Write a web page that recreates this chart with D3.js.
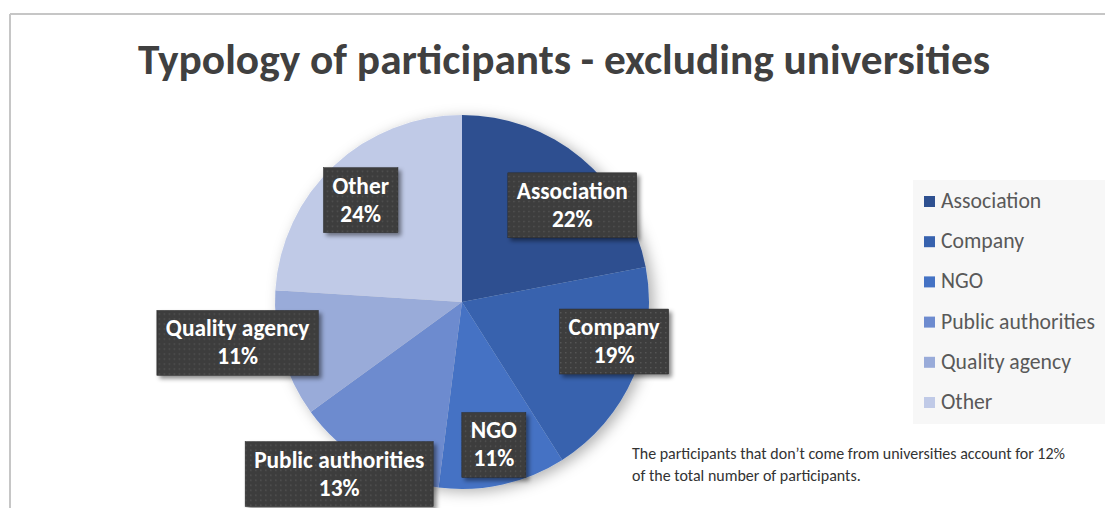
<!DOCTYPE html>
<html>
<head>
<meta charset="utf-8">
<script src="https://cdn.jsdelivr.net/npm/d3@7"></script>
<style>
  html, body { margin: 0; padding: 0; background: #fff; }
  svg { display: block; font-family: Calibri, Carlito, "Open Sans", sans-serif; }
</style>
</head>
<body>
<div id="chart"></div>
<script>
// Pie data (percent of non-university participants)
const categories = ["Association", "Company", "NGO", "Public authorities", "Quality agency", "Other"]
const values = [22, 19, 11, 13, 11, 24]
const colors = ["#2e5090", "#3762ae", "#4472c4", "#6d8bcf", "#99abd9", "#c0cae7"]

const title = "Typology of participants - excluding universities"
const noteLines = [
  "The participants that don\u2019t come from universities account for 12%",
  "of the total number of participants."
]

// Excel "best fit" label spots: radius from centre and angle nudge (degrees)
const labelPlacement = [
  { r: 147, nudge: 9 },
  { r: 157, nudge: -9 },
  { r: 146, nudge: 0 },
  { r: 211, nudge: 5 },
  { r: 228, nudge: 6 },
  { r: 144, nudge: -1.5 }
]

const width = 1105
const height = 508
const cx = 462
const cy = 302
const radius = 187

const svg = d3.select("#chart")
  .append("svg")
  .attr("width", width)
  .attr("height", height)

const defs = svg.append("defs")

// soft shadow around the pie
const pieShadow = defs.append("filter").attr("id", "pieShadow")
  .attr("x", "-20%").attr("y", "-20%").attr("width", "140%").attr("height", "140%")
pieShadow.append("feDropShadow")
  .attr("dx", 5).attr("dy", 3).attr("stdDeviation", 7)
  .attr("flood-color", "#000").attr("flood-opacity", 0.3)

const boxShadow = defs.append("filter").attr("id", "boxShadow")
  .attr("x", "-20%").attr("y", "-20%").attr("width", "150%").attr("height", "150%")
boxShadow.append("feDropShadow")
  .attr("dx", 3).attr("dy", 3).attr("stdDeviation", 2)
  .attr("flood-color", "#000").attr("flood-opacity", 0.45)

// dotted texture of the label boxes
const pat = defs.append("pattern").attr("id", "dots")
  .attr("width", 5).attr("height", 5).attr("patternUnits", "userSpaceOnUse")
pat.append("rect").attr("width", 5).attr("height", 5).attr("fill", "#3c3c3c")
pat.append("rect").attr("x", 1).attr("y", 1).attr("width", 1.4).attr("height", 1.4).attr("fill", "#585858")

// frame (only top and left edges are visible in the crop)
svg.append("line")
  .attr("x1", 10).attr("y1", 14).attr("x2", width).attr("y2", 14)
  .attr("stroke", "#c6c6c6").attr("stroke-width", 2)
svg.append("line")
  .attr("x1", 10).attr("y1", 14).attr("x2", 10).attr("y2", height)
  .attr("stroke", "#c6c6c6").attr("stroke-width", 2)

// helper: shrink/grow a text node's font so it spans a given width
function fitText(sel, targetWidth) {
  const node = sel.node()
  const fs = parseFloat(sel.attr("font-size"))
  const w = node.getComputedTextLength()
  if (w > 0) sel.attr("font-size", (fs * targetWidth / w).toFixed(2))
  return sel
}

// title
const titleText = svg.append("text")
  .attr("x", 564).attr("y", 74)
  .attr("text-anchor", "middle")
  .attr("font-size", 36)
  .attr("font-weight", "bold")
  .attr("fill", "#404040")
  .text(title)
fitText(titleText, 852)

// pie
const pie = d3.pie().sort(null).value(d => d)
const arcs = pie(values)
const arc = d3.arc().innerRadius(0).outerRadius(radius)

const pieG = svg.append("g")
  .attr("transform", `translate(${cx},${cy})`)
  .attr("filter", "url(#pieShadow)")

pieG.selectAll("path")
  .data(arcs)
  .enter()
  .append("path")
  .attr("d", arc)
  .attr("fill", (d, i) => colors[i])

// label font size: "Association" is about 111px wide in the original
const probe = svg.append("text")
  .attr("font-size", 20).attr("font-weight", "bold")
  .text(categories[0])
fitText(probe, 111)
const labelFont = parseFloat(probe.attr("font-size"))
probe.remove()

// data labels
const labelG = svg.append("g").attr("transform", `translate(${cx},${cy})`)
const lineH = 28
const total = d3.sum(values)

arcs.forEach((d, i) => {
  const mid = (d.startAngle + d.endAngle) / 2 + labelPlacement[i].nudge * Math.PI / 180
  const r = labelPlacement[i].r
  const x = r * Math.sin(mid)
  const y = -r * Math.cos(mid)
  const pct = Math.round(d.data / total * 100) + "%"

  const g = labelG.append("g").attr("transform", `translate(${x},${y})`)
  const rect = g.append("rect")
    .attr("fill", "url(#dots)")
    .attr("stroke", "#2a2a2a")
    .attr("stroke-width", 0.5)
    .attr("filter", "url(#boxShadow)")

  const t1 = g.append("text")
    .attr("x", 0).attr("y", -6)
    .attr("text-anchor", "middle")
    .attr("font-size", labelFont)
    .attr("font-weight", "bold")
    .attr("fill", "#fff")
    .text(categories[i])
  const t2 = g.append("text")
    .attr("x", 0).attr("y", -6 + lineH)
    .attr("text-anchor", "middle")
    .attr("font-size", labelFont)
    .attr("font-weight", "bold")
    .attr("fill", "#fff")
    .text(pct)

  const w = Math.max(t1.node().getComputedTextLength(), t2.node().getComputedTextLength())
  rect.attr("x", -w / 2 - 9).attr("y", -32)
    .attr("width", w + 18).attr("height", 65)
})

// legend
const legendG = svg.append("g")
legendG.append("rect")
  .attr("x", 913).attr("y", 180)
  .attr("width", width - 913).attr("height", 244)
  .attr("fill", "#f7f7f7")

const legendY = d3.scalePoint()
  .domain(categories)
  .range([201, 402])

categories.forEach((c, i) => {
  const y = legendY(c)
  legendG.append("rect")
    .attr("x", 924).attr("y", y - 5)
    .attr("width", 11).attr("height", 11)
    .attr("fill", colors[i])
  legendG.append("text")
    .attr("x", 941).attr("y", y + 7)
    .attr("font-size", 19)
    .attr("fill", "#595959")
    .text(c)
})
// keep the legend text near Calibri width
legendG.selectAll("text").each(function () {
  const sel = d3.select(this)
  if (sel.text() === "Public authorities") {
    const w = this.getComputedTextLength()
    const scale = 154 / w
    legendG.selectAll("text").attr("font-size", (19 * scale).toFixed(2))
  }
})

// note under the legend
const note = svg.append("g")
noteLines.forEach((line, i) => {
  const t = note.append("text")
    .attr("x", 632).attr("y", 459 + i * 22)
    .attr("font-size", 14)
    .attr("fill", "#333")
    .text(line)
  if (i === 0) fitText(t, 433)
})
note.selectAll("text").attr("font-size", note.select("text").attr("font-size"))
</script>
</body>
</html>
